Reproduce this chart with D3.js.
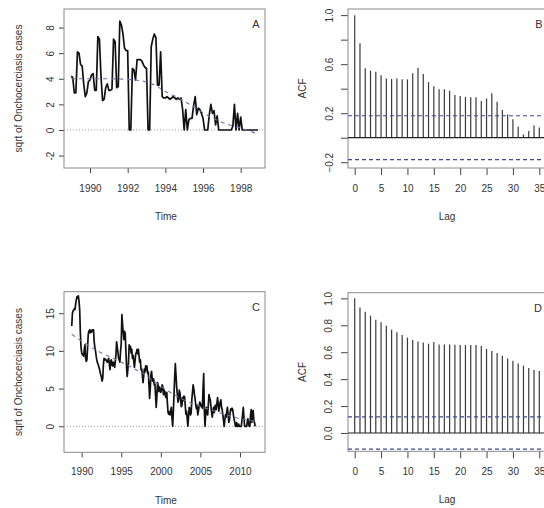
<!DOCTYPE html>
<html>
<head>
<meta charset="utf-8">
<script src="https://cdn.jsdelivr.net/npm/d3@7"></script>
<style>
body { margin: 0; background: #fff; }
svg text { font-family: "Liberation Sans", Arial, sans-serif; fill: #333; }
</style>
</head>
<body>
<svg id="fig" width="544" height="508"></svg>
<script>
// ---- panel A: monthly sqrt cases, from Jan 1989
var startA = 1989;
var seriesA = [
  4.2, 4.1, 2.9, 2.9, 6.1, 6.0, 5.1, 5.0, 3.6, 2.6, 2.9, 3.8,
  3.9, 4.3, 4.4, 3.1, 3.1, 7.3, 7.1, 4.2, 2.3, 2.4, 3.3, 3.6,
  3.1, 3.1, 3.2, 7.1, 6.9, 3.3, 3.4, 8.5, 8.2, 7.5, 6.4, 6.2,
  6.2, 0, 0, 4.8, 4.7, 3.9, 5.5, 5.5, 5.5, 5.4, 5.1, 4.9,
  4.8, 0, 0, 6.5, 7.1, 7.5, 7.2, 3.5, 3.5, 6.1, 2.6, 2.5,
  2.5, 2.6, 2.5, 2.4, 2.5, 2.6, 2.5, 2.4, 2.5, 2.4, 2.5, 1.6,
  0, 1.6, 0, 0.8, 0.9, 0.9, 1.9, 2.6, 1.2, 1.7, 1.6, 1.3,
  0.9, 0, 0, 0, 1.2, 2.0, 1.3, 1.5, 0.4, 1.1, 0, 0,
  0, 0, 0, 0, 0, 0, 0, 0.3, 2.0, 0, 1.3, 0,
  1.0, 0, 0, 0, 0, 0, 0, 0, 0, 0, 0, 0
];
var trendA_t = [1989, 1990, 1991, 1992, 1993, 1993.5, 1994, 1994.5, 1995, 1995.5, 1996, 1996.5, 1997, 1997.5, 1998, 1998.5, 1998.92];
var trendA_v = [4.0, 4.0, 4.0, 3.95, 3.75, 3.45, 3.0, 2.65, 2.25, 1.8, 1.35, 0.95, 0.6, 0.35, 0.15, -0.1, -0.3];

// ---- panel C: monthly sqrt cases, from Oct 1988
var startC = 1988.75;
var seriesC = [
  13.3, 15.0, 15.3,
  15.4, 15.6, 15.5, 16.3, 16.8, 17.2, 17.0, 17.3, 16.6, 15.5, 12.5, 10.5,
  9.8, 9.5, 9.6, 9.3, 10.2, 10.8, 9.0, 8.6, 8.8, 10.5, 12.2, 12.6,
  12.8, 12.4, 12.7, 12.5, 12.8, 12.6, 12.8, 11.2, 10.5, 10.0, 9.3, 8.8,
  8.4, 8.2, 7.9, 7.6, 7.2, 6.8, 6.5, 6.0, 6.4, 8.2, 9.0, 8.8,
  8.9, 8.8, 8.6, 8.5, 8.8, 9.0, 8.2, 7.5, 8.6, 8.8, 8.1, 8.0,
  8.5, 8.3, 7.8, 8.6, 9.5, 11.2, 10.5, 9.8, 9.0, 8.8, 8.5, 10.0,
  11.0, 14.8, 13.5, 12.5, 11.5, 12.6, 12.3, 10.2, 8.0, 6.6, 7.5, 8.5,
  10.8, 10.2, 10.6, 9.7, 10.2, 9.0, 9.4, 8.6, 7.8, 8.7, 9.6, 9.8,
  10.2, 9.6, 10.2, 9.3, 8.5, 8.8, 7.5, 7.6, 6.8, 5.8, 6.6, 7.6,
  7.2, 8.0, 7.4, 8.0, 7.0, 7.2, 5.5, 3.7, 5.0, 6.8, 7.3, 6.2,
  6.0, 6.3, 5.5, 5.6, 4.2, 2.5, 4.0, 5.8, 5.4, 4.6, 5.2, 5.0,
  4.5, 4.8, 5.5, 5.3, 4.2, 4.8, 4.6, 4.0, 3.8, 4.5, 3.0, 1.8,
  1.6, 1.9, 1.5, 2.2, 2.5, 1.0, 0, 2.0, 4.2, 6.5, 8.3, 6.8,
  5.2, 4.3, 3.2, 3.5, 4.8, 4.4, 3.6, 2.6, 2.8, 3.8, 3.4, 4.0,
  3.9, 2.8, 1.6, 2.0, 1.0, 0, 1.2, 2.5, 2.4, 1.5, 1.8, 3.5,
  4.5, 5.5, 5.0, 4.2, 3.6, 2.8, 2.3, 2.8, 1.5, 2.0, 2.6, 3.2,
  3.0, 2.6, 2.8, 2.4, 5.0, 7.0, 2.0, 0, 1.6, 2.5, 1.8, 1.5,
  2.8, 4.2, 3.8, 3.5, 2.6, 1.8, 1.2, 2.0, 2.5, 1.8, 2.6, 2.8,
  2.2, 3.0, 3.8, 3.0, 2.0, 2.6, 3.2, 3.5, 2.6, 2.2, 1.5, 0.8,
  0, 0.8, 1.5, 1.2, 2.0, 2.5, 1.6, 0.5, 0.8, 1.8, 2.3, 2.1,
  2.4, 2.2, 1.5, 1.0, 0.6, 0, 0, 0.5, 0, 0, 0.3, 0,
  0, 0, 0, 0.8, 1.6, 2.5, 1.2, 0, 0, 0, 0, 0.5,
  1.0, 0.3, 0, 0, 1.5, 2.2, 0.5, 2.0, 2.1, 0.8, 0.5, 0
];
var trendC_t = [1988.75, 1990, 1992, 1994, 1996, 1998, 2000, 2002, 2004, 2006, 2008, 2010, 2011.92];
var trendC_v = [12.2, 11.3, 10.0, 9.0, 8.0, 6.8, 5.3, 4.0, 3.0, 2.3, 1.6, 1.0, 0.7];

// ---- ACF values (lag 0..35) and 95% bounds
var acfB = [1.0, 0.77, 0.566, 0.547, 0.539, 0.51, 0.484, 0.479, 0.484, 0.476, 0.476, 0.525,
  0.571, 0.52, 0.454, 0.42, 0.395, 0.395, 0.384, 0.348, 0.34, 0.332, 0.33, 0.33,
  0.30, 0.32, 0.362, 0.294, 0.226, 0.19, 0.15, 0.09, 0.027, 0.054, 0.10, 0.084];
var acfD = [1.0, 0.933, 0.90, 0.871, 0.842, 0.822, 0.797, 0.767, 0.748, 0.728, 0.708, 0.69,
  0.68, 0.673, 0.663, 0.676, 0.658, 0.658, 0.658, 0.656, 0.653, 0.653, 0.653, 0.653,
  0.646, 0.624, 0.609, 0.594, 0.574, 0.554, 0.537, 0.517, 0.50, 0.483, 0.468, 0.46];
var ciB = 0.179, ciD = 0.12;

// ---- ticks
var ticksA_x = [1990, 1992, 1994, 1996, 1998];
var ticksA_y = [-2, 0, 2, 4, 6, 8];
var ticksC_x = [1990, 1995, 2000, 2005, 2010];
var ticksC_y = [0, 5, 10, 15];
var ticksLag = [0, 5, 10, 15, 20, 25, 30, 35, 40];
var ticksB_y = [-0.2, 0, 0.2, 0.4, 0.6, 0.8, 1.0];
var labelsB_y = [-0.2, 0.2, 0.6, 1.0];
var ticksD_y = [0, 0.2, 0.4, 0.6, 0.8, 1.0];

var svg = d3.select("#fig");
var fmt1 = d3.format(".1f");

function panel(p) {
  var g = svg.append("g");
  var x = d3.scaleLinear().domain(p.xdom).range([p.left, p.right]);
  var y = d3.scaleLinear().domain(p.ydom).range([p.bottom, p.top]);

  // x axis
  var xa = d3.axisBottom(x).tickValues(p.xticks).tickSize(p.tick).tickPadding(p.xpad)
    .tickFormat(d3.format("d"));
  var gx = g.append("g").attr("transform", "translate(0," + p.bottom + ")").call(xa);
  gx.select(".domain").remove();
  gx.selectAll("line").attr("stroke", "#444");
  gx.selectAll("text").attr("font-size", 10).attr("fill", "#333");

  // y axis, labels parallel to the axis (R style)
  var ya = d3.axisLeft(y).tickValues(p.yticks).tickSize(p.tick)
    .tickFormat(function (d) {
      if (p.ylabels && p.ylabels.indexOf(d) < 0) return "";
      return p.yfmt ? p.yfmt(d) : d;
    });
  var gy = g.append("g").attr("transform", "translate(" + p.left + ",0)").call(ya);
  gy.select(".domain").remove();
  gy.selectAll("line").attr("stroke", "#444");
  gy.selectAll("text")
    .attr("font-size", 10).attr("fill", "#333")
    .attr("x", 0).attr("y", 0).attr("dy", "0.35em")
    .attr("text-anchor", "middle")
    .attr("transform", "translate(" + (-p.ypad) + ",0) rotate(-90)");

  // box
  g.append("rect")
    .attr("x", p.left).attr("y", p.top)
    .attr("width", p.right - p.left).attr("height", p.bottom - p.top)
    .attr("fill", "none").attr("stroke", "#8a8a8a").attr("stroke-width", 1);

  // titles and panel tag
  g.append("text").attr("x", p.xtitleX).attr("y", p.bottom + 52)
    .attr("text-anchor", "middle").attr("font-size", 10).text(p.xtitle);
  g.append("text")
    .attr("transform", "translate(" + (p.left - p.ytitleOff) + "," + ((p.top + p.bottom) / 2) + ") rotate(-90)")
    .attr("text-anchor", "middle").attr("dy", "0.35em").attr("font-size", 10).text(p.ytitle);
  g.append("text").attr("x", p.tagX).attr("y", p.top + 19)
    .attr("text-anchor", "middle").attr("font-size", 11).attr("fill", "#222").text(p.tag);

  return { g: g, x: x, y: y };
}

function drawSeries(p, start, vals, tt, tv) {
  var P = panel(p);
  // dotted zero line
  P.g.append("line")
    .attr("x1", p.left).attr("x2", p.right)
    .attr("y1", P.y(0)).attr("y2", P.y(0))
    .attr("stroke", "#9a9a9a").attr("stroke-width", 1).attr("stroke-dasharray", "1,2");
  var pts = vals.map(function (v, i) { return [start + i / 12, v]; });
  var line = d3.line().x(function (d) { return P.x(d[0]); }).y(function (d) { return P.y(d[1]); });
  P.g.append("path").datum(pts).attr("d", line)
    .attr("fill", "none").attr("stroke", "#111").attr("stroke-width", 1.7)
    .attr("stroke-linejoin", "round");
  // dashed trend
  var tr = tt.map(function (t, i) { return [t, tv[i]]; });
  P.g.append("path").datum(tr).attr("d", line.curve(d3.curveMonotoneX))
    .attr("fill", "none").attr("stroke", "#6a76a8").attr("stroke-width", 1.1)
    .attr("stroke-dasharray", "4,4");
}

function drawACF(p, acf, ci) {
  var P = panel(p);
  P.g.append("g").selectAll("line").data(acf).enter().append("line")
    .attr("x1", function (d, i) { return P.x(i); })
    .attr("x2", function (d, i) { return P.x(i); })
    .attr("y1", P.y(0))
    .attr("y2", function (d) { return P.y(d); })
    .attr("stroke", "#3a3a3a").attr("stroke-width", 1.2);
  P.g.append("line")
    .attr("x1", p.left).attr("x2", p.right)
    .attr("y1", P.y(0)).attr("y2", P.y(0))
    .attr("stroke", "#222").attr("stroke-width", 1.2);
  [ci, -ci].forEach(function (c) {
    P.g.append("line")
      .attr("x1", p.left).attr("x2", p.right)
      .attr("y1", P.y(c)).attr("y2", P.y(c))
      .attr("stroke", "#3c4a96").attr("stroke-width", 1.1).attr("stroke-dasharray", "4,3");
  });
}

drawSeries({
  left: 64, right: 265, top: 9, bottom: 168,
  xdom: [1988.62, 1999.29], ydom: [-2.97, 9.45],
  xticks: ticksA_x, yticks: ticksA_y, tick: 5, xpad: 12, ypad: 14,
  xtitle: "Time", xtitleX: 166, ytitle: "sqrt of Onchocerciasis cases", ytitleOff: 46,
  tag: "A", tagX: 256
}, startA, seriesA, trendA_t, trendA_v);

drawACF({
  left: 348, right: 600, top: 9, bottom: 168,
  xdom: [-1.27, 46.51], ydom: [-0.247, 1.05],
  xticks: ticksLag, yticks: ticksB_y, ylabels: labelsB_y, yfmt: fmt1,
  tick: 7, xpad: 10, ypad: 19,
  xtitle: "Lag", xtitleX: 447, ytitle: "ACF", ytitleOff: 46,
  tag: "B", tagX: 539
}, acfB, ciB);

drawSeries({
  left: 64, right: 265, top: 291.7, bottom: 452.3,
  xdom: [1987.77, 2013.16], ydom: [-3.45, 17.85],
  xticks: ticksC_x, yticks: ticksC_y, tick: 5, xpad: 11, ypad: 14,
  xtitle: "Time", xtitleX: 166, ytitle: "sqrt of Onchocerciasis cases", ytitleOff: 46,
  tag: "C", tagX: 256
}, startC, seriesC, trendC_t, trendC_v);

drawACF({
  left: 348, right: 600, top: 292.7, bottom: 451.3,
  xdom: [-1.27, 46.51], ydom: [-0.136, 1.042],
  xticks: ticksLag, yticks: ticksD_y, yfmt: fmt1,
  tick: 7, xpad: 10, ypad: 20,
  xtitle: "Lag", xtitleX: 447, ytitle: "ACF", ytitleOff: 46,
  tag: "D", tagX: 538
}, acfD, ciD);
</script>
</body>
</html>
